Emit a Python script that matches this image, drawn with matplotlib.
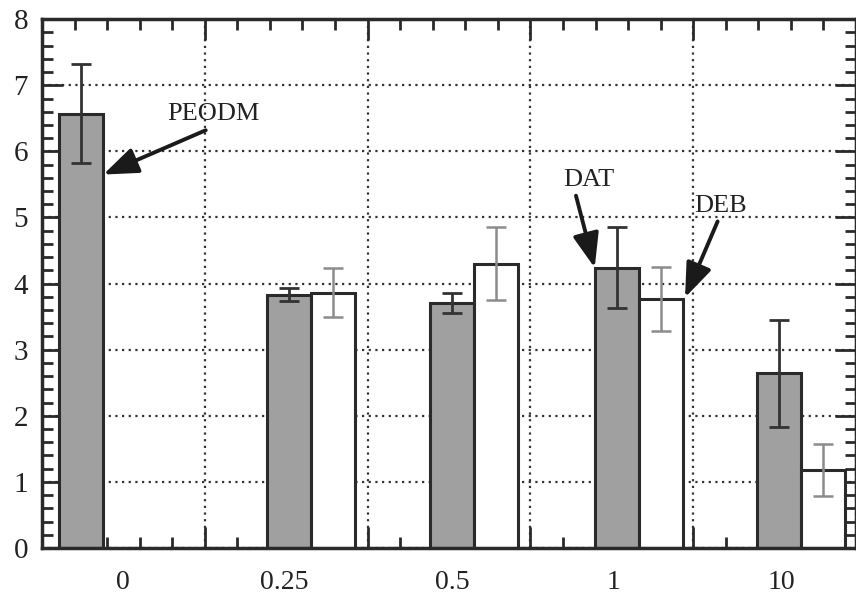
import numpy as np
import matplotlib.pyplot as plt
from matplotlib.ticker import MultipleLocator, NullFormatter

plt.rcParams['font.family'] = ['Liberation Serif', 'DejaVu Serif']

# concentrations and mean values (gray = DAT / PEODM, white = DEB)
concs = ['0', '0.25', '0.5', '1', '10']
dat = [6.57, 3.83, 3.71, 4.24, 2.64]
dat_err = [0.75, 0.10, 0.15, 0.61, 0.81]
deb = [np.nan, 3.86, 4.30, 3.77, 1.18]
deb_err = [np.nan, 0.37, 0.55, 0.48, 0.40]

# bar placement along the x axis (0..5 in grid units)
width = 0.27
dat_x = np.array([0.24, 1.52, 2.52, 3.53, 4.53])
deb_x = dat_x + width
label_x = [0.50, 1.49, 2.52, 3.51, 4.54]

fig = plt.figure(figsize=(8.56, 6.0), dpi=100)
ax = fig.add_axes([0.049, 0.0867, 0.951, 0.8813])

ax.set_axisbelow(True)
ax.grid(True, which='major', linestyle=(0, (1, 2)), linewidth=1.6, color='#333333')

ax.bar(dat_x, dat, width, color='#a0a0a0', edgecolor='#2a2a2a', linewidth=2.2, zorder=2)
ax.bar(deb_x, deb, width, color='white', edgecolor='#2a2a2a', linewidth=2.2, zorder=2)
ax.errorbar(dat_x, dat, yerr=dat_err, fmt='none', ecolor='#333333',
            elinewidth=2.0, capsize=7, capthick=2.0, zorder=3)
ax.errorbar(deb_x, deb, yerr=deb_err, fmt='none', ecolor='#8c8c8c',
            elinewidth=1.8, capsize=7, capthick=1.8, zorder=3)

ax.set_xlim(0, 5.0)
ax.set_ylim(0, 8)
ax.xaxis.set_major_locator(MultipleLocator(1))
ax.xaxis.set_minor_locator(MultipleLocator(0.2))
ax.xaxis.set_major_formatter(NullFormatter())
ax.yaxis.set_major_locator(MultipleLocator(1))
ax.yaxis.set_minor_locator(MultipleLocator(0.2))
ax.tick_params(which='both', direction='in', top=True, right=True,
               color='#2a2a2a', width=2.0, labelsize=21, labelcolor='#222222')
ax.tick_params(which='major', length=15, pad=10)
ax.tick_params(which='minor', length=8)
for sp in ax.spines.values():
    sp.set_linewidth(2.5)
    sp.set_color('#2a2a2a')

for x, lab in zip(label_x, concs):
    ax.text(x, -0.066, lab, transform=ax.get_xaxis_transform(), ha='center',
            va='center', fontsize=20, color='#222222')

# labelled arrows pointing at the bars
arrow = dict(arrowstyle='-|>,head_length=2.1,head_width=0.8', color='#1a1a1a',
             linewidth=2.8, shrinkA=0, shrinkB=0)
ax.annotate('', xy=(0.377, 5.65), xytext=(1.006, 6.32), arrowprops=arrow, zorder=4)
ax.text(1.055, 6.56, 'PEODM', ha='center', va='center', fontsize=19, color='#222222')
ax.annotate('', xy=(3.395, 4.24), xytext=(3.28, 5.33), arrowprops=arrow, zorder=4)
ax.text(3.36, 5.56, 'DAT', ha='center', va='center', fontsize=19, color='#222222')
ax.annotate('', xy=(3.95, 3.79), xytext=(4.15, 4.94), arrowprops=arrow, zorder=4)
ax.text(4.17, 5.17, 'DEB', ha='center', va='center', fontsize=19, color='#222222')

fig.savefig('out.png', dpi=100)
